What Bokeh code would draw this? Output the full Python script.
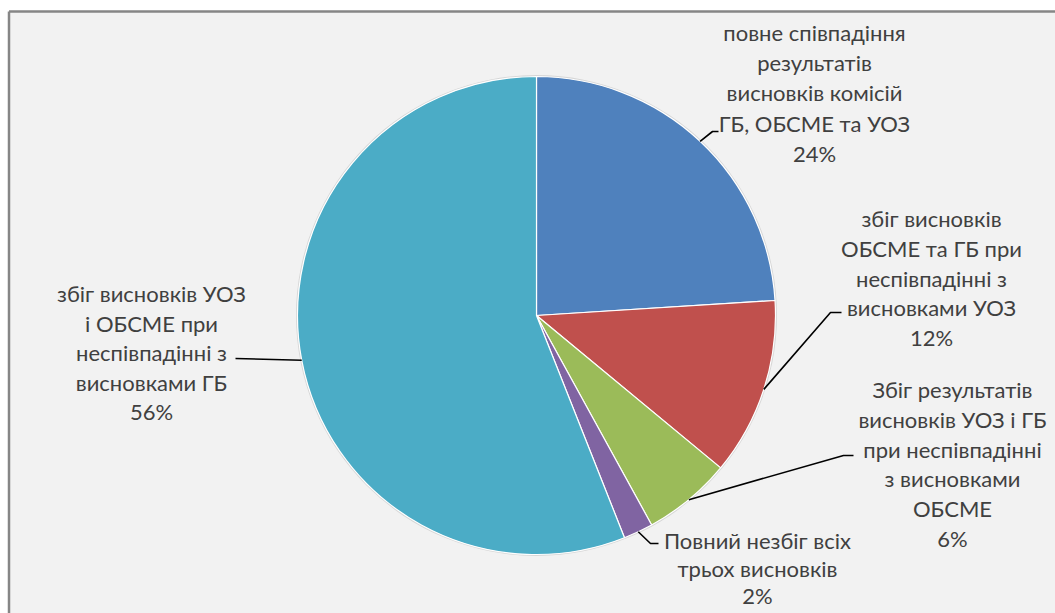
import math
from bokeh.plotting import figure
from bokeh.models import ColumnDataSource, Range1d
from bokeh.core.properties import value
from bokeh.embed import file_html
from bokeh.resources import INLINE

# ---- data ----
categories = [
    "повне співпадіння результатів висновків комісій ГБ, ОБСМЕ та УОЗ",
    "збіг висновків ОБСМЕ та ГБ при неспівпадінні з висновками УОЗ",
    "Збіг результатів висновків УОЗ і ГБ при неспівпадінні з висновками ОБСМЕ",
    "Повний незбіг всіх трьох висновків",
    "збіг висновків УОЗ і ОБСМЕ при неспівпадінні з висновками ГБ",
]
label_lines = [
    ["повне співпадіння", "результатів", "висновків комісій", "ГБ, ОБСМЕ та УОЗ"],
    ["збіг висновків", "ОБСМЕ та ГБ при", "неспівпадінні з", "висновками УОЗ"],
    ["Збіг результатів", "висновків УОЗ і ГБ", "при неспівпадінні", "з висновками", "ОБСМЕ"],
    ["Повний незбіг всіх", "трьох висновків"],
    ["збіг висновків УОЗ", "і ОБСМЕ при", "неспівпадінні з", "висновками ГБ"],
]
values = [24, 12, 6, 2, 56]
colors = ["#4F81BD", "#C0504D", "#9BBB59", "#8064A2", "#4BACC6"]

# ---- layout (pixel coordinates, image y measured from top) ----
W, H = 1055, 613
CX, CY_IMG, R = 536, 315, 239
CY = H - CY_IMG
label_pos = [(814, 32, 30.2), (931, 218, 29.8), (952, 389, 29.8), (757, 540, 27.5), (151, 293, 29.5)]
leader_elbows = [
    [(712, 131), (718, 131)],
    [(830, 312), (841, 312)],
    [(843, 455), (853, 455)],
    [(650, 543), (658, 543)],
    [(235, 358)],
]

total = float(sum(values))
starts, ends, cum = [], [], 0.0
mid_fracs = []
for v in values:
    f0 = cum / total
    cum += v
    f1 = cum / total
    # clockwise from 12 o'clock
    starts.append(math.pi / 2 - 2 * math.pi * f1)
    ends.append(math.pi / 2 - 2 * math.pi * f0)
    mid_fracs.append((f0 + f1) / 2)

p = figure(width=W, height=H, output_backend="svg", toolbar_location=None,
           x_range=Range1d(0, W), y_range=Range1d(0, H),
           x_axis_location=None, y_axis_location=None,
           min_border=0, outline_line_color=None,
           background_fill_color="white", border_fill_color="white")
p.grid.visible = False

# chart area background and frame
p.quad(left=[8.5], right=[W + 5], bottom=[-5], top=[H - 11], fill_color="#F2F2F2", line_color=None)
p.multi_line(xs=[[8.5, W + 5], [8.5, 8.5]], ys=[[H - 11, H - 11], [H - 11, -5]],
             line_color="#868686", line_width=2.5)

# pie shadow rim
p.circle(x=[CX], y=[CY], radius=R + 1.5, fill_color="#D6D6D6", line_color=None)

src = ColumnDataSource(dict(start=starts, end=ends, color=colors, cat=categories, val=values))
p.wedge(x=CX, y=CY, radius=R, start_angle="start", end_angle="end",
        fill_color="color", line_color="white", line_width=1.2, source=src)

# leader lines from slice mid-point on rim
xs, ys = [], []
for mf, elb in zip(mid_fracs, leader_elbows):
    a = math.pi / 2 - 2 * math.pi * mf
    ex, ey = CX + R * math.cos(a), CY + R * math.sin(a)
    xs.append([ex] + [e[0] for e in elb])
    ys.append([ey] + [H - e[1] for e in elb])
p.multi_line(xs=xs, ys=ys, line_color="black", line_width=1.6)

# labels
tx, ty, tt = [], [], []
for lines, v, (lx, ly, step) in zip(label_lines, values, label_pos):
    allr = lines + [f"{v}%"]
    for i, t in enumerate(allr):
        tx.append(lx)
        ty.append(H - (ly + i * step))
        tt.append(t)
p.text(x=tx, y=ty, text=tt, text_align="center", text_baseline="middle",
       text_font=value("Lato"), text_font_size="22px", text_color="#404040")

open("out.html", "w").write(file_html(p, INLINE))
